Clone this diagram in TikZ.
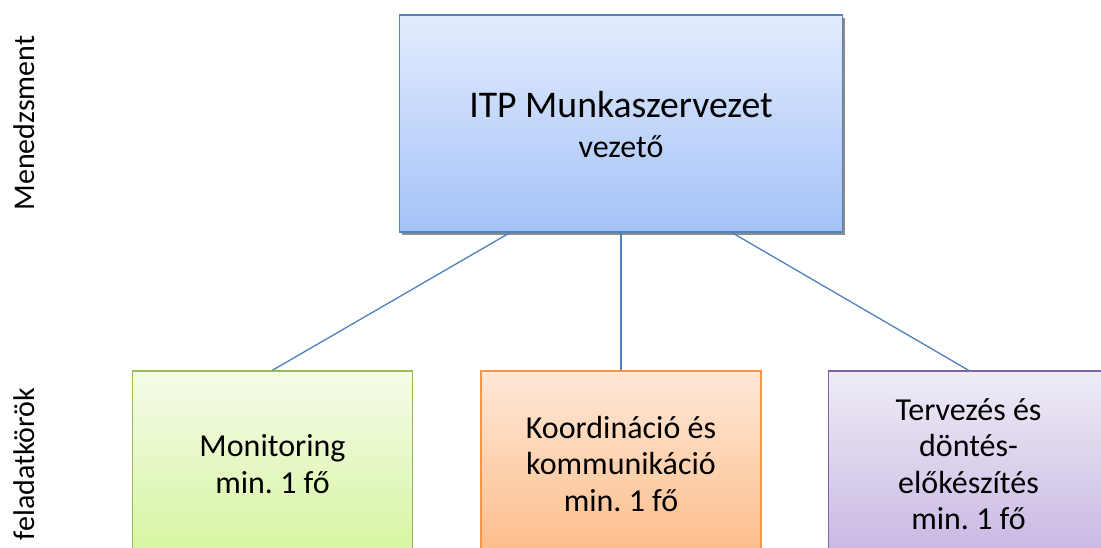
\documentclass[tikz,border=0pt]{standalone}
\usepackage{fontspec}
\setmainfont{Carlito}
\usetikzlibrary{calc,shadows}
\definecolor{bluetop}{HTML}{E3ECFD}
\definecolor{bluebot}{HTML}{A4C2F8}
\definecolor{blueline}{HTML}{5383BF}
\definecolor{greentop}{HTML}{F5FBEA}
\definecolor{greenbot}{HTML}{D6F59F}
\definecolor{greenline}{HTML}{9BBB59}
\definecolor{orangetop}{HTML}{FEE8D8}
\definecolor{orangebot}{HTML}{FDBC88}
\definecolor{orangeline}{HTML}{F79646}
\definecolor{purpletop}{HTML}{EFECF6}
\definecolor{purplebot}{HTML}{C8B7E3}
\definecolor{purpleline}{HTML}{8064A2}
\definecolor{conncol}{HTML}{4F81BD}
\begin{document}
\frenchspacing
\begin{tikzpicture}[x=1pt,y=-1pt,
  boxbase/.style={rectangle, inner sep=0pt, line width=1.5pt, align=center,
    font=\fontsize{32}{36.5}\selectfont, text=black},
  topbox/.style={boxbase, draw=blueline, top color=bluetop, bottom color=bluebot,
    minimum width=443pt, minimum height=217pt,
    drop shadow={shadow xshift=2.5pt, shadow yshift=-2.5pt, fill=black!45, opacity=1}},
  taskbox/.style={boxbase, minimum width=280pt, minimum height=186pt},
  greenbox/.style={taskbox, draw=greenline, top color=greentop, bottom color=greenbot},
  orangebox/.style={taskbox, draw=orangeline, top color=orangetop, bottom color=orangebot},
  purplebox/.style={taskbox, draw=purpleline, top color=purpletop, bottom color=purplebot},
  conn/.style={draw=conncol, line width=1.3pt},
  sidelabel/.style={rotate=90, font=\fontsize{30}{34}\selectfont, inner sep=0pt}
]
\useasboundingbox (0,0) rectangle (1101,547);
\clip (0,0) rectangle (1101,547);
\fill[white] (0,0) rectangle (1101,547);

\node[topbox] (top) at (621,123.5) {};
\node[inner sep=0pt, align=center, anchor=base, font=\fontsize{37.7}{40}\selectfont] (toptext) at (621,117)
  {ITP Munkaszervezet};
\node[inner sep=0pt, align=center, anchor=base, font=\fontsize{32}{36}\selectfont] (topsub) at (621,157)
  {vezető};

\node[greenbox] (mon) at (272.5,464) {Monitoring\\min. 1 fő};
\node[orangebox] (koo) at (621,464) {Koordináció és\\kommunikáció\\min. 1 fő};
\node[purplebox] (ter) at (968.5,464) {Tervezés és\\döntés-\\előkészítés\\min. 1 fő};

\draw[conn] ($(top.south west)!0.25!(top.south east)$) -- (mon.north);
\draw[conn] (top.south) -- (koo.north);
\draw[conn] ($(top.south west)!0.75!(top.south east)$) -- (ter.north);

\node[sidelabel] (men) at (24,123) {Menedzsment};
\node[sidelabel] (fel) at (24,464) {feladatkörök};
\end{tikzpicture}
\end{document}
